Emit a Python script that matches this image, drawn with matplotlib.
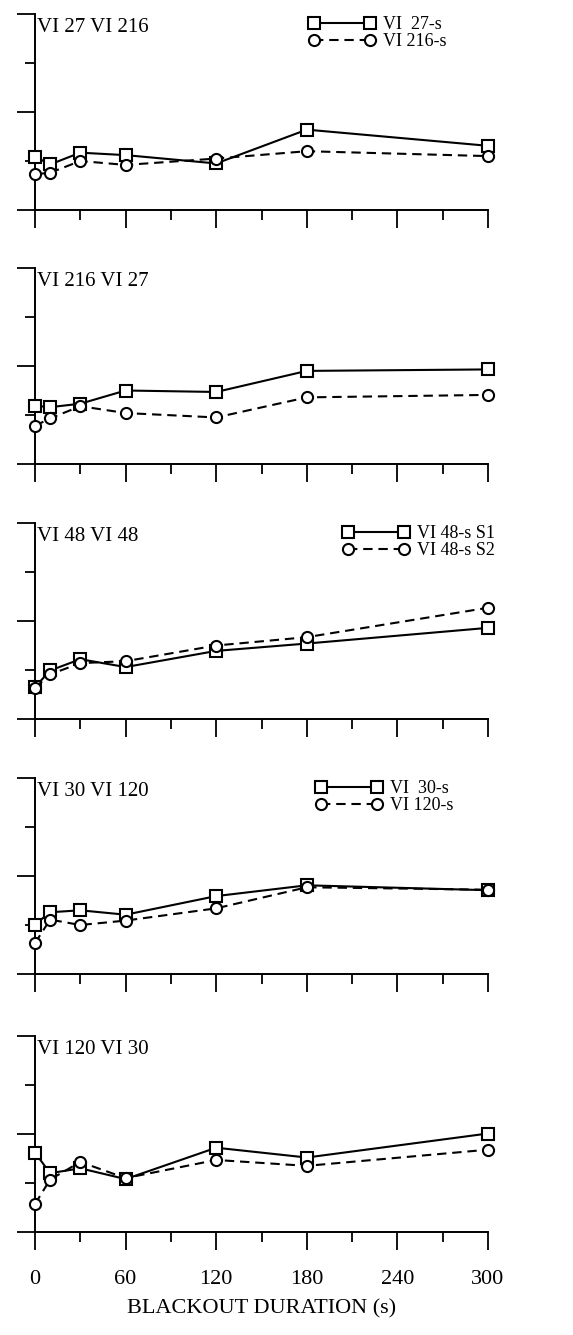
import matplotlib
matplotlib.use("Agg")
import matplotlib.pyplot as plt
from matplotlib.ticker import MultipleLocator

plt.rcParams['font.family'] = ['Liberation Serif', 'DejaVu Serif']

# blackout durations (s)
blackout = [0, 10, 30, 60, 120, 180, 300]

titles = ['VI 27 VI 216', 'VI 216 VI 27', 'VI 48 VI 48', 'VI 30 VI 120', 'VI 120 VI 30']

# solid line / square markers
square_vals = [
    [1.09, 0.93, 1.17, 1.12, 0.95, 1.64, 1.31],
    [1.19, 1.16, 1.23, 1.50, 1.47, 1.90, 1.93],
    [0.65, 0.99, 1.22, 1.06, 1.39, 1.54, 1.86],
    [1.01, 1.26, 1.30, 1.21, 1.59, 1.81, 1.71],
    [1.62, 1.20, 1.30, 1.08, 1.72, 1.52, 2.01],
]
# dashed line / circle markers
circle_vals = [
    [0.73, 0.76, 1.00, 0.92, 1.05, 1.20, 1.10],
    [0.78, 0.93, 1.18, 1.04, 0.95, 1.36, 1.41],
    [0.64, 0.91, 1.14, 1.18, 1.50, 1.67, 2.27],
    [0.63, 1.11, 1.00, 1.09, 1.34, 1.77, 1.72],
    [0.57, 1.07, 1.43, 1.10, 1.47, 1.35, 1.68],
]

legend_labels = [
    ('VI  27-s', 'VI 216-s'),
    None,
    ('VI 48-s S1', 'VI 48-s S2'),
    ('VI  30-s', 'VI 120-s'),
    None,
]

xticks_major = [0, 60, 120, 180, 240, 300]

W, H = 573, 1335
fig = plt.figure(figsize=(W / 100, H / 100), dpi=100)

tops = [14, 268, 523, 778, 1036]
left, right = 35, 488
height = 196
legend_x = [0.604, None, 0.68, 0.62, None]

for i in range(5):
    ax = fig.add_axes([left / W, (H - tops[i] - height) / H, (right - left) / W, height / H])
    ax.plot(blackout, square_vals[i], color='black', lw=1.5, marker='s', ms=8,
            mfc='white', mec='black', mew=1.5, clip_on=False, zorder=3,
            label=legend_labels[i][0] if legend_labels[i] else None)
    ax.plot(blackout, circle_vals[i], color='black', lw=1.5, ls=(0, (4.5, 2.8)), marker='o', ms=8,
            mfc='white', mec='black', mew=1.5, clip_on=False, zorder=3,
            label=legend_labels[i][1] if legend_labels[i] else None)

    ax.set_xlim(0, 300)
    ax.set_ylim(0, 4)
    ax.spines['top'].set_visible(False)
    ax.spines['right'].set_visible(False)
    for s in ('left', 'bottom'):
        ax.spines[s].set_linewidth(1.4)

    ax.xaxis.set_major_locator(MultipleLocator(60))
    ax.xaxis.set_minor_locator(MultipleLocator(30))
    ax.yaxis.set_major_locator(MultipleLocator(2))
    ax.yaxis.set_minor_locator(MultipleLocator(1))
    ax.tick_params(which='major', direction='out', length=13, width=1.3)
    ax.tick_params(which='minor', direction='out', length=7, width=1.3)
    ax.set_yticklabels([])
    ax.tick_params(axis='x', labelsize=16, pad=14)
    if i < 4:
        ax.set_xticklabels([])
    else:
        ax.set_xticks(xticks_major)
        ax.set_xticklabels([str(v) for v in xticks_major])
        ax.set_xlabel('BLACKOUT DURATION (s)', fontsize=16, labelpad=8)

    ax.text(0.004, 0.93, titles[i], transform=ax.transAxes, fontsize=15,
            ha='left', va='center')

    if legend_labels[i]:
        ax.legend(loc='upper left', bbox_to_anchor=(legend_x[i], 0.99), frameon=False,
                  numpoints=2, handlelength=3.7, handletextpad=0.42,
                  labelspacing=0.0, borderpad=0, borderaxespad=0, fontsize=13)

fig.savefig('out.png', dpi=100)
